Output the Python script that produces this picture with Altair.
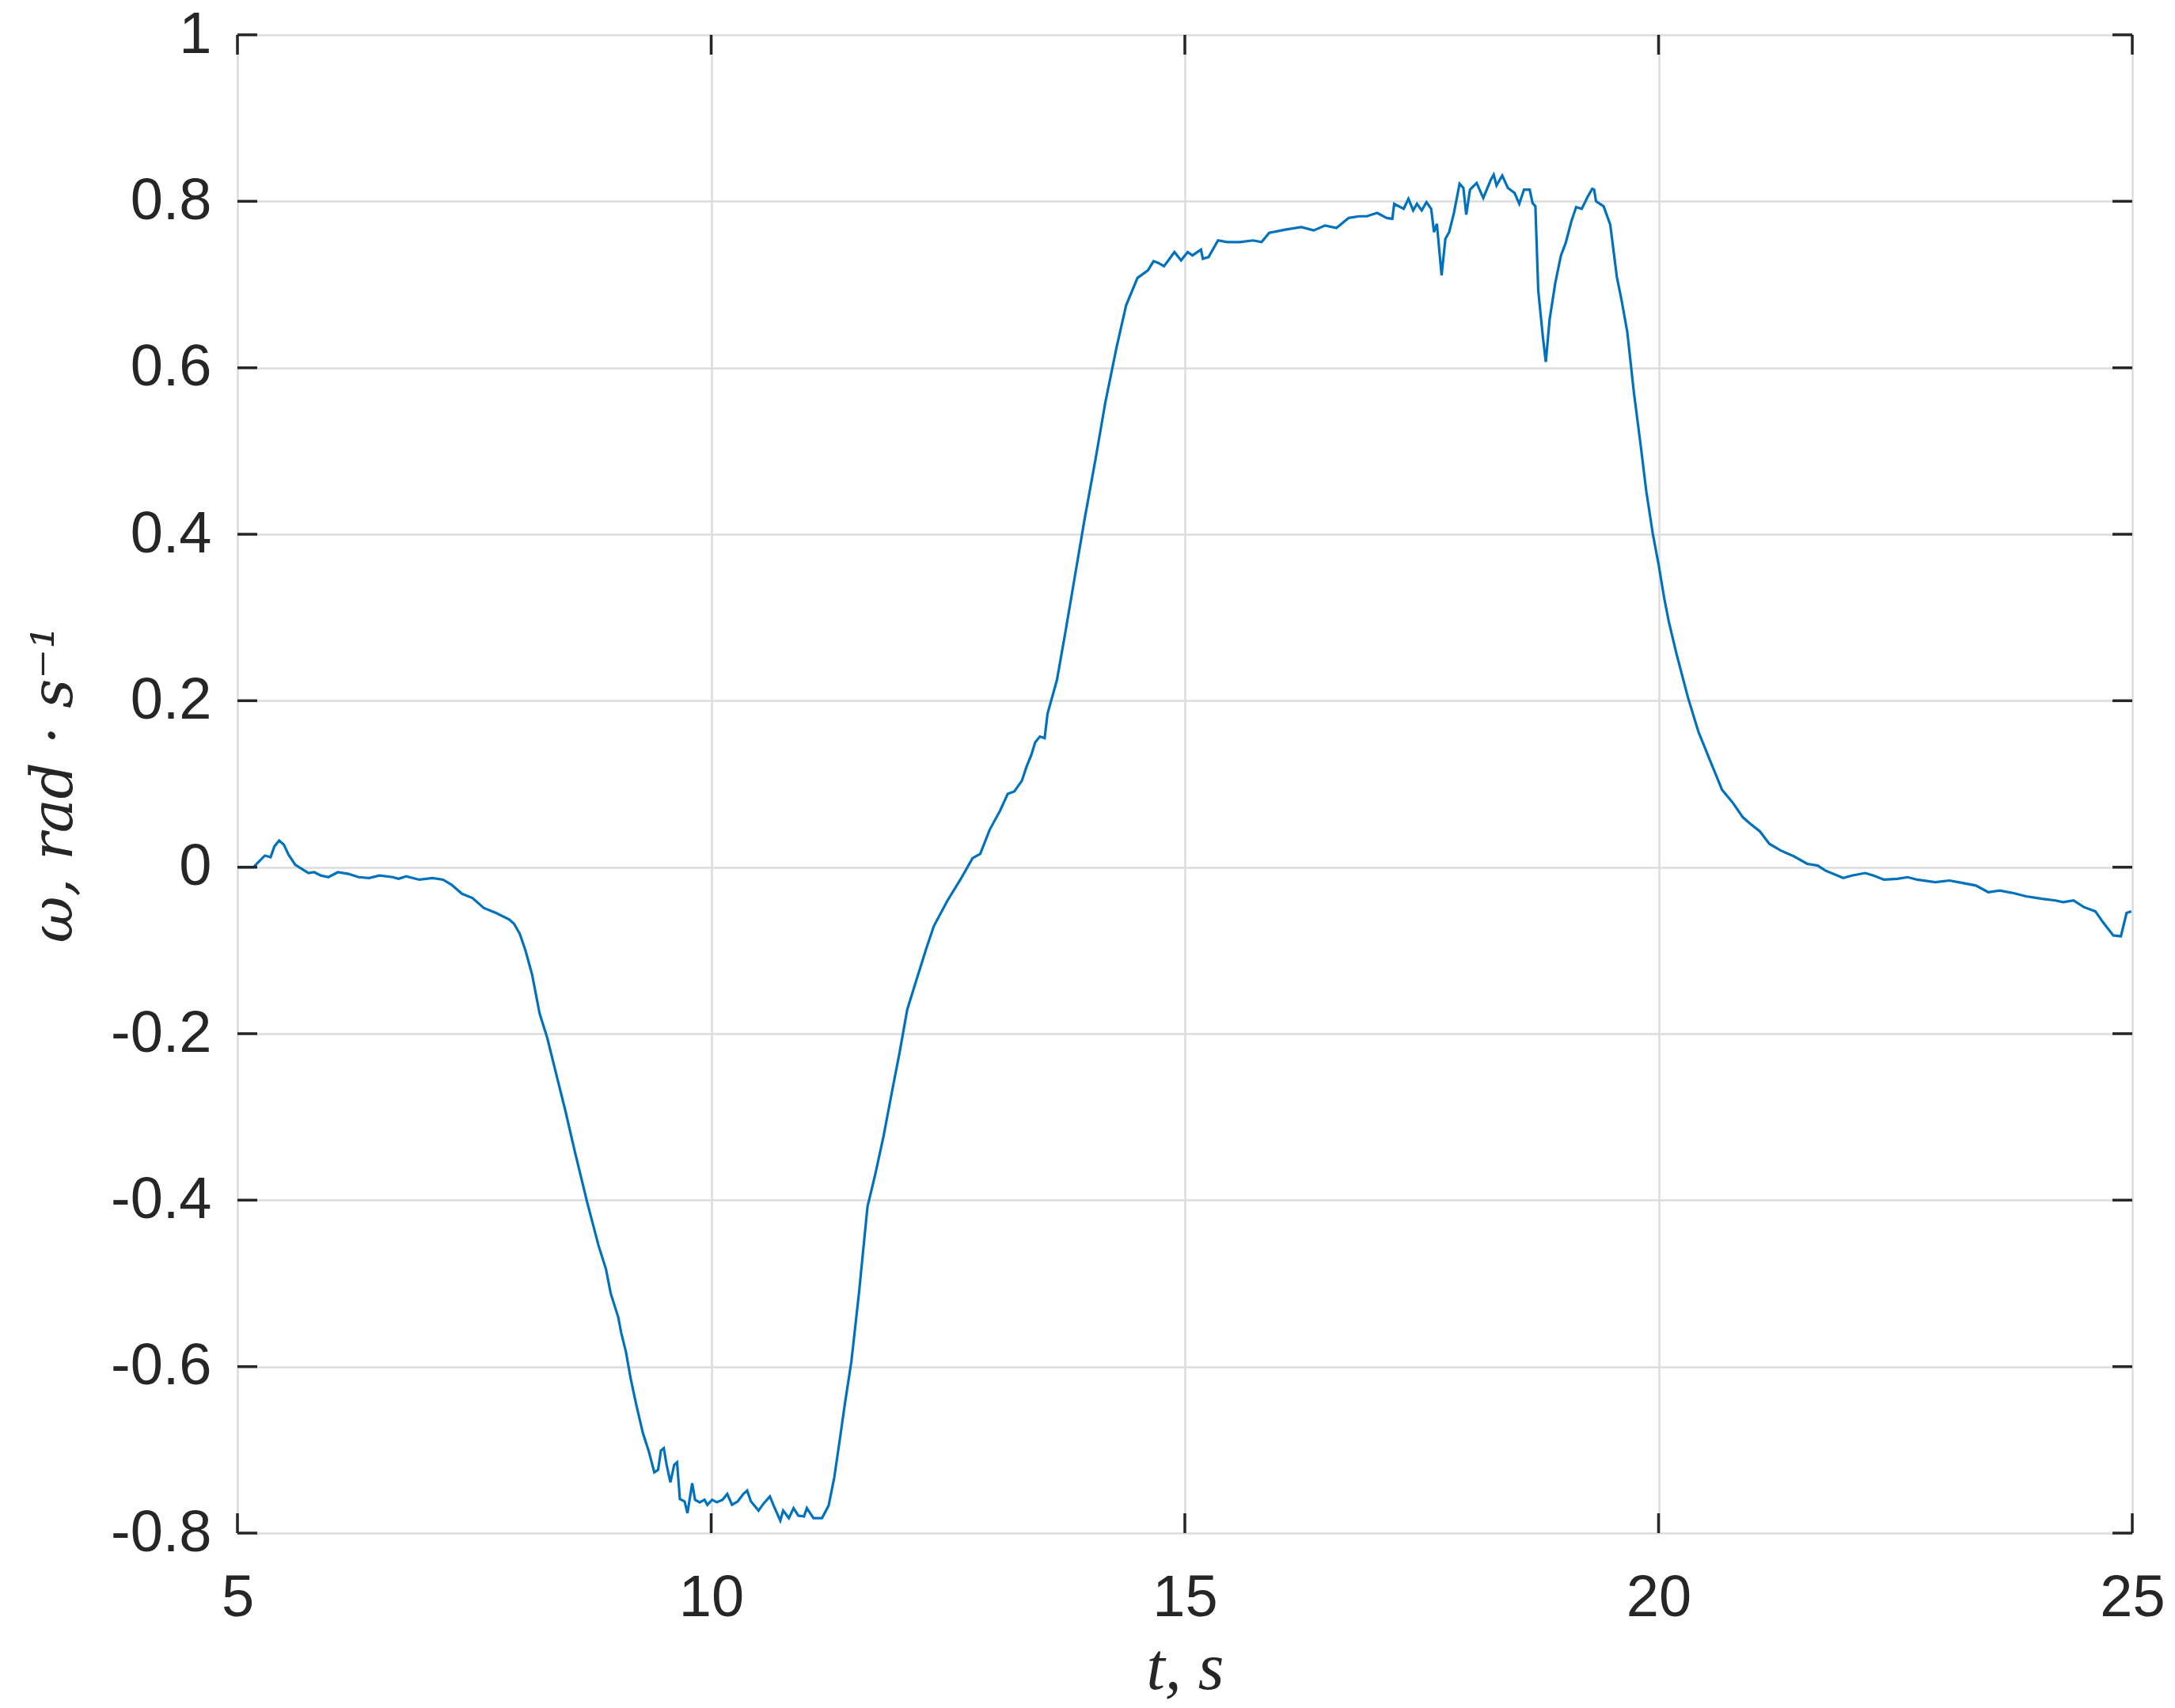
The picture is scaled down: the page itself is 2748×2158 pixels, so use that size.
import altair as alt
import pandas as pd

# time, s
t = [5.00, 5.17, 5.22, 5.29, 5.35, 5.39, 5.44, 5.49, 5.54, 5.61, 5.68, 5.75, 5.81, 5.88, 5.96,
     6.06, 6.17, 6.28, 6.39, 6.50, 6.64, 6.70, 6.78, 6.92, 7.06, 7.17, 7.26, 7.37, 7.48, 7.60,
     7.73, 7.87, 7.92, 7.98, 8.04, 8.11, 8.19, 8.27, 8.37, 8.46, 8.56, 8.69, 8.81, 8.89, 8.94,
     9.02, 9.05, 9.10, 9.15, 9.21, 9.28, 9.34, 9.40, 9.44, 9.47, 9.50, 9.53, 9.57, 9.61, 9.64,
     9.67, 9.72, 9.75, 9.80, 9.83, 9.88, 9.93, 9.96, 10.01, 10.06, 10.12, 10.17, 10.22, 10.28,
     10.34, 10.38, 10.42, 10.50, 10.55, 10.62, 10.66, 10.73, 10.76, 10.82, 10.87, 10.92, 10.98,
     11.01, 11.08, 11.17, 11.24, 11.30, 11.36, 11.41, 11.48, 11.56, 11.65, 11.73, 11.82, 11.91,
     11.99, 12.07, 12.16, 12.27, 12.35, 12.49, 12.63, 12.76, 12.84, 12.94, 13.05, 13.13, 13.20,
     13.28, 13.33, 13.38, 13.42, 13.47, 13.52, 13.55, 13.65, 13.74, 13.84, 13.94, 14.06, 14.16,
     14.28, 14.38, 14.50, 14.61, 14.67, 14.72, 14.78, 14.89, 14.96, 15.03, 15.08, 15.17, 15.19,
     15.25, 15.35, 15.45, 15.58, 15.72, 15.81, 15.89, 16.06, 16.23, 16.36, 16.48, 16.60, 16.73,
     16.84, 16.92, 17.03, 17.13, 17.19, 17.21, 17.31, 17.36, 17.41, 17.45, 17.50, 17.55, 17.60,
     17.63, 17.66, 17.71, 17.75, 17.79, 17.84, 17.90, 17.94, 17.97, 18.01, 18.08, 18.15, 18.23,
     18.26, 18.29, 18.35, 18.41, 18.48, 18.53, 18.58, 18.64, 18.67, 18.70, 18.73, 18.78, 18.81,
     18.85, 18.91, 18.97, 19.02, 19.08, 19.13, 19.19, 19.25, 19.30, 19.32, 19.34, 19.42, 19.49,
     19.56, 19.61, 19.67, 19.74, 19.81, 19.87, 19.94, 20.00, 20.06, 20.11, 20.19, 20.31, 20.42,
     20.53, 20.67, 20.78, 20.89, 20.96, 21.07, 21.17, 21.29, 21.43, 21.57, 21.68, 21.76, 21.95,
     22.04, 22.18, 22.27, 22.38, 22.52, 22.63, 22.73, 22.92, 23.07, 23.21, 23.35, 23.48, 23.60,
     23.74, 23.88, 24.05, 24.19, 24.27, 24.38, 24.49, 24.61, 24.69, 24.80, 24.88, 24.94, 24.99]

# angular velocity, rad/s
omega = [0.000, 0.000, 0.006, 0.014, 0.012, 0.025, 0.032, 0.027, 0.015, 0.003, -0.002, -0.007,
         -0.006, -0.010, -0.012, -0.006, -0.008, -0.012, -0.013, -0.010, -0.012, -0.014, -0.011,
         -0.015, -0.013, -0.015, -0.021, -0.032, -0.037, -0.049, -0.055, -0.063, -0.068, -0.080,
         -0.100, -0.129, -0.176, -0.205, -0.251, -0.292, -0.341, -0.402, -0.454, -0.483, -0.512,
         -0.541, -0.559, -0.582, -0.614, -0.646, -0.680, -0.701, -0.727, -0.724, -0.701, -0.698,
         -0.718, -0.739, -0.718, -0.715, -0.759, -0.762, -0.776, -0.740, -0.760, -0.763, -0.760,
         -0.766, -0.760, -0.763, -0.760, -0.753, -0.766, -0.762, -0.753, -0.749, -0.762, -0.773,
         -0.765, -0.756, -0.767, -0.785, -0.773, -0.782, -0.770, -0.779, -0.780, -0.770, -0.782,
         -0.782, -0.767, -0.733, -0.686, -0.646, -0.594, -0.512, -0.408, -0.370, -0.323, -0.269,
         -0.222, -0.171, -0.138, -0.098, -0.071, -0.041, -0.015, 0.011, 0.016, 0.045, 0.068,
         0.088, 0.091, 0.104, 0.121, 0.135, 0.150, 0.157, 0.155, 0.184, 0.225, 0.283, 0.350,
         0.417, 0.492, 0.558, 0.625, 0.675, 0.708, 0.717, 0.728, 0.726, 0.722, 0.739, 0.729,
         0.739, 0.735, 0.742, 0.731, 0.733, 0.753, 0.751, 0.751, 0.753, 0.751, 0.762, 0.766,
         0.769, 0.765, 0.771, 0.768, 0.780, 0.782, 0.782, 0.786, 0.780, 0.779, 0.797, 0.791,
         0.803, 0.789, 0.797, 0.789, 0.799, 0.791, 0.763, 0.773, 0.711, 0.755, 0.763, 0.786,
         0.821, 0.816, 0.784, 0.814, 0.822, 0.804, 0.826, 0.832, 0.819, 0.831, 0.816, 0.810,
         0.797, 0.814, 0.814, 0.798, 0.794, 0.693, 0.636, 0.607, 0.658, 0.702, 0.735, 0.750,
         0.776, 0.793, 0.791, 0.805, 0.815, 0.814, 0.800, 0.794, 0.772, 0.709, 0.681, 0.643,
         0.570, 0.508, 0.452, 0.400, 0.364, 0.323, 0.294, 0.256, 0.204, 0.163, 0.132, 0.093,
         0.078, 0.060, 0.053, 0.043, 0.028, 0.020, 0.013, 0.004, 0.002, -0.004, -0.013, -0.010,
         -0.007, -0.010, -0.015, -0.014, -0.012, -0.015, -0.018, -0.016, -0.019, -0.022, -0.030,
         -0.028, -0.031, -0.035, -0.038, -0.040, -0.042, -0.040, -0.048, -0.053, -0.066, -0.082,
         -0.083, -0.055, -0.053]

x_ticks = [5, 10, 15, 20, 25]
y_ticks = [-0.8, -0.6, -0.4, -0.2, 0, 0.2, 0.4, 0.6, 0.8, 1]

W, H = 2394, 1893
TICK = 25
AXC = "#262626"

df = pd.DataFrame({"t": t, "w": omega})
dfx = pd.DataFrame({"t": x_ticks})
dfy = pd.DataFrame({"w": y_ticks})

xscale = alt.Scale(domain=[5, 25], nice=False, zero=False)
yscale = alt.Scale(domain=[-0.8, 1], nice=False, zero=False)

xaxis = alt.Axis(values=x_ticks, format="d", grid=True, gridColor="#dcdcdc", gridWidth=2.5,
                 domain=False, ticks=False, labelFont="Liberation Sans", labelFontSize=74,
                 labelColor=AXC, labelPadding=46, labelFlush=False, labelOverlap=False,
                 title="t, s", titleFont="Liberation Serif", titleFontStyle="italic",
                 titleFontWeight="normal", titleFontSize=84, titleColor=AXC,
                 titleX=W / 2, titleY=196, titleBaseline="alphabetic", titleAlign="center")
yaxis = alt.Axis(values=y_ticks, grid=True, gridColor="#dcdcdc", gridWidth=2.5,
                 domain=False, ticks=False, labelFont="Liberation Sans", labelFontSize=74,
                 labelColor=AXC, labelPadding=33, labelFlush=False, labelOverlap=False,
                 labelExpr="(datum.value < 0 ? '-' : '') + format(abs(datum.value), '~g')",
                 title="ω, rad · s⁻¹", titleFont="DejaVu Serif", titleFontStyle="italic",
                 titleFontWeight="normal", titleFontSize=72, titleColor=AXC,
                 titleAngle=-90, titleX=-210, titleY=H / 2, titleBaseline="alphabetic",
                 titleAlign="center")

line = alt.Chart(df).mark_line(color="#0072BD", strokeWidth=3.2).encode(
    x=alt.X("t:Q", scale=xscale, axis=xaxis),
    y=alt.Y("w:Q", scale=yscale, axis=yaxis),
)

xt_bottom = alt.Chart(dfx).mark_rule(color=AXC, strokeWidth=3.5).encode(
    x=alt.X("t:Q", scale=xscale), y=alt.value(H), y2=alt.value(H - TICK))
xt_top = alt.Chart(dfx).mark_rule(color=AXC, strokeWidth=3.5).encode(
    x=alt.X("t:Q", scale=xscale), y=alt.value(0), y2=alt.value(TICK))
yt_left = alt.Chart(dfy).mark_rule(color=AXC, strokeWidth=3.5).encode(
    y=alt.Y("w:Q", scale=yscale), x=alt.value(0), x2=alt.value(TICK))
yt_right = alt.Chart(dfy).mark_rule(color=AXC, strokeWidth=3.5).encode(
    y=alt.Y("w:Q", scale=yscale), x=alt.value(W - TICK), x2=alt.value(W))

chart = alt.layer(line, xt_bottom, xt_top, yt_left, yt_right).properties(
    width=W, height=H,
    autosize=alt.AutoSizeParams(type="none"),
    padding={"left": 292, "top": 36, "right": 46, "bottom": 213},
).configure_view(stroke=AXC, strokeWidth=3.5).configure(background="white")

chart.save("out.html", embed_options={"renderer": "svg", "actions": False})
